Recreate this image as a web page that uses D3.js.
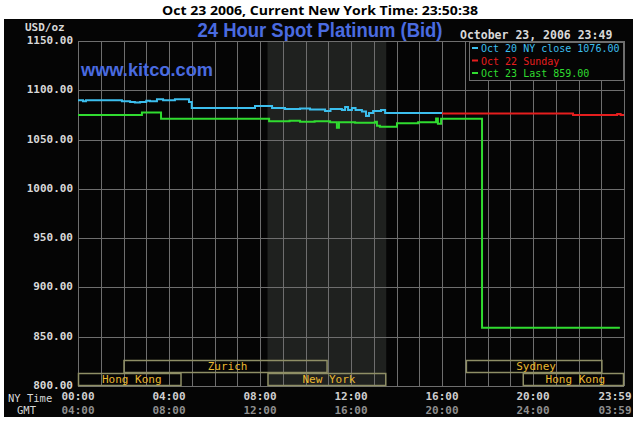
<!DOCTYPE html>
<html>
<head>
<meta charset="utf-8">
<script src="https://cdn.jsdelivr.net/npm/d3@7"></script>
<style>
  body { margin: 0; background: #fff; }
  text { font-family: "DejaVu Sans Mono", monospace; }
</style>
</head>
<body>
<div id="chart"></div>
<script>
// values (hours since NY midnight, USD/oz)
const priceTicks = [800, 850, 900, 950, 1000, 1050, 1100, 1150]
const nyTimeLabels = ['00:00', '04:00', '08:00', '12:00', '16:00', '20:00', '23:59']
const gmtTimeLabels = ['04:00', '08:00', '12:00', '16:00', '20:00', '24:00', '03:59']
const timeTickHours = [0, 4, 8, 12, 16, 20, 23.98]

const oct20Hours = [0, 0.22, 0.35, 1.76, 1.93, 2.29, 2.5, 2.73, 3.0, 3.16, 3.47, 3.74, 4.26, 4.88, 5.0, 7.78, 8.53, 9.1, 9.76, 10.2, 10.86, 11.1, 11.6, 11.74, 11.87, 12.04, 12.2, 12.48, 12.66, 12.79, 12.97, 13.32, 13.5, 16]
const oct20Values = [1090, 1089, 1090, 1090, 1089, 1088, 1087.5, 1088, 1089.5, 1089, 1091, 1090, 1091, 1088, 1082, 1084, 1082, 1081, 1081.5, 1080.5, 1079, 1081, 1080, 1083, 1080, 1082, 1080, 1078.5, 1074, 1077, 1079, 1080, 1077, 1077]

const oct22Hours = [16, 21.76, 23.7, 23.85, 24]
const oct22Values = [1076.5, 1075, 1076, 1075, 1075]

const oct23Hours = [0, 2.81, 3.65, 8.4, 9.3, 9.76, 10.4, 11.08, 11.38, 11.47, 12.18, 13.05, 13.14, 13.27, 14.02, 14.95, 15.74, 15.82, 15.96, 17.76, 23.82]
const oct23Values = [1075, 1077.5, 1071, 1068.5, 1069, 1068, 1068.5, 1067.5, 1062, 1067.5, 1067, 1068, 1064, 1063, 1066.5, 1067.5, 1071.5, 1066, 1071, 859, 859]

const legendLabels = ['Oct 20 NY close 1076.00', 'Oct 22 Sunday', 'Oct 23 Last 859.00']
const seriesColors = ['#3cbfee', '#e61e1e', '#30dc30']

const marketNames = ['Hong Kong', 'Zurich', 'New York', 'Sydney', 'Hong Kong']
const marketStart = [0, 2, 8.33, 17.05, 19.55]
const marketEnd = [4.55, 10.97, 13.55, 23.05, 24]
const marketRow = [0, 1, 0, 1, 0]

const nySession = [8.33, 13.55]

const width = 637
const height = 421
const margin = { top: 41, right: 13, bottom: 35, left: 78 }

const svg = d3.select('#chart').append('svg').attr('width', width).attr('height', height)

svg.append('text').attr('x', 320).attr('y', 15).attr('text-anchor', 'middle')
  .attr('font-weight', 'bold').attr('font-size', 13)
  .attr('textLength', 316).attr('lengthAdjust', 'spacingAndGlyphs')
  .style('font-family', '"Open Sans", sans-serif')
  .text('Oct 23 2006, Current New York Time: 23:50:38')

svg.append('rect').attr('x', 4).attr('y', 19).attr('width', 629).attr('height', 398).attr('fill', '#050505')

const x = d3.scaleLinear().domain([0, 24]).range([margin.left, width - margin.right])
const y = d3.scaleLinear().domain([800, 1150]).range([height - margin.bottom, margin.top])

// NY session shading
svg.append('rect')
  .attr('x', x(nySession[0])).attr('y', y(1150))
  .attr('width', x(nySession[1]) - x(nySession[0])).attr('height', y(800) - y(1150))
  .attr('fill', '#1f211f')

const gridGroup = svg.append('g').attr('class', 'gridGroup').attr('stroke', '#6e6e6e').attr('stroke-width', 1)
gridGroup.selectAll('line.v').data(d3.range(0, 25)).enter().append('line')
  .attr('x1', d => Math.round(x(d)) + 0.5).attr('x2', d => Math.round(x(d)) + 0.5)
  .attr('y1', y(1150)).attr('y2', y(800))
gridGroup.selectAll('line.h').data(priceTicks).enter().append('line')
  .attr('x1', x(0)).attr('x2', x(24))
  .attr('y1', d => Math.round(y(d)) + 0.5).attr('y2', d => Math.round(y(d)) + 0.5)

// price labels
svg.append('g').selectAll('text').data(priceTicks).enter().append('text')
  .attr('x', 73).attr('y', d => y(d) + 3).attr('text-anchor', 'end')
  .attr('font-size', 11).attr('fill', '#d8d8d8').style('font-weight', 'bold')
  .text(d => d3.format('.2f')(d))
svg.append('text').attr('x', 25).attr('y', 31).attr('font-size', 11).attr('fill', '#d8d8d8')
  .style('font-weight', 'bold').text('USD/oz')

// time labels
const timeGroup = svg.append('g')
timeGroup.selectAll('text.ny').data(timeTickHours).enter().append('text')
  .attr('x', (d, i) => i === timeTickHours.length - 1 ? x(d) + 8 : x(d))
  .attr('y', 400).attr('text-anchor', (d, i) => i === timeTickHours.length - 1 ? 'end' : 'middle')
  .attr('font-size', 11).attr('fill', '#cfcfcf').style('font-weight', 'bold')
  .text((d, i) => nyTimeLabels[i])
timeGroup.selectAll('text.gmt').data(timeTickHours).enter().append('text')
  .attr('x', (d, i) => i === timeTickHours.length - 1 ? x(d) + 8 : x(d))
  .attr('y', 414).attr('text-anchor', (d, i) => i === timeTickHours.length - 1 ? 'end' : 'middle')
  .attr('font-size', 11).attr('fill', '#8e8e8e').style('font-weight', 'bold')
  .text((d, i) => gmtTimeLabels[i])
svg.append('text').attr('x', 8).attr('y', 401.5).attr('font-size', 10.5).attr('fill', '#d8d8d8').text('NY Time')
svg.append('text').attr('x', 17).attr('y', 414).attr('font-size', 10.5).attr('fill', '#d8d8d8').text('GMT')

// market boxes
const rowH = 13
const markets = marketNames.map((name, i) => ({ name, start: marketStart[i], end: marketEnd[i], row: marketRow[i] }))
const marketGroup = svg.append('g')
marketGroup.selectAll('rect').data(markets).enter().append('rect')
  .attr('x', d => x(d.start) + 0.5).attr('y', d => y(800) - rowH * (d.row + 1) + 0.5)
  .attr('width', d => x(d.end) - x(d.start) - 1).attr('height', rowH - 1)
  .attr('fill', 'none').attr('stroke', '#8f8f66').attr('stroke-width', 1.5)
marketGroup.selectAll('text').data(markets).enter().append('text')
  .attr('x', d => (x(d.start) + x(d.end)) / 2 + 2).attr('y', d => y(800) - rowH * d.row - 3)
  .attr('text-anchor', 'middle').attr('font-size', 11).attr('fill', '#eab830')
  .text(d => d.name)

// series
const line = d3.line().curve(d3.curveStepAfter).x(d => x(d[0])).y(d => y(d[1]))
const series = [
  d3.zip(oct20Hours, oct20Values),
  d3.zip(oct22Hours, oct22Values),
  d3.zip(oct23Hours, oct23Values),
]
svg.append('g').selectAll('path').data(series).enter().append('path')
  .attr('d', line).attr('fill', 'none')
  .attr('stroke', (d, i) => seriesColors[i]).attr('stroke-width', 2)

// titles
svg.append('text').attr('x', 320).attr('y', 37).attr('text-anchor', 'middle')
  .attr('font-size', 20).attr('fill', '#4a6be0').attr('font-weight', 'bold')
  .attr('textLength', 245).attr('lengthAdjust', 'spacingAndGlyphs')
  .style('font-family', '"Liberation Sans Narrow", "Liberation Sans", sans-serif')
  .text('24 Hour Spot Platinum (Bid)')
svg.append('text').attr('x', 81).attr('y', 76)
  .attr('font-size', 18).attr('fill', '#4a6be0').attr('font-weight', 'bold')
  .attr('textLength', 132).attr('lengthAdjust', 'spacingAndGlyphs')
  .style('font-family', '"Liberation Sans", sans-serif')
  .text('www.kitco.com')
svg.append('text').attr('x', 460).attr('y', 39).attr('font-size', 11.5).attr('fill', '#d8d8d8')
  .style('font-weight', 'bold').text('October 23, 2006 23:49')

// legend
const legend = svg.append('g')
legend.append('rect').attr('x', 469.5).attr('y', 42.5).attr('width', 154).attr('height', 38)
  .attr('fill', '#050505').attr('stroke', '#6e6e6e')
legend.selectAll('rect.sw').data(legendLabels).enter().append('rect')
  .attr('x', 472).attr('y', (d, i) => 47 + i * 12.5).attr('width', 6).attr('height', 2)
  .attr('fill', (d, i) => seriesColors[i])
legend.selectAll('text').data(legendLabels).enter().append('text')
  .attr('x', 481).attr('y', (d, i) => 52 + i * 12.5).attr('font-size', 10)
  .attr('fill', (d, i) => seriesColors[i])
  .text(d => d)
</script>
</body>
</html>
